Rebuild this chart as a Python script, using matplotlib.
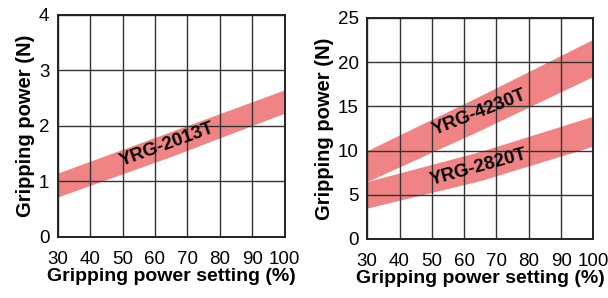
import matplotlib.pyplot as plt
import numpy as np

plt.rcParams['font.family'] = ['Liberation Sans', 'DejaVu Sans']

# gripping power setting (%)
setting = [30, 65, 100]

# YRG-2013T band (N)
y2013_low = [0.72, 1.45, 2.23]
y2013_high = [1.15, 1.90, 2.65]

# YRG-4230T band (N)
y4230_low = [6.5, 12.3, 18.4]
y4230_high = [10.0, 16.2, 22.6]

# YRG-2820T band (N)
y2820_low = [3.5, 6.6, 10.5]
y2820_high = [6.5, 9.9, 13.9]

xticks = [30, 40, 50, 60, 70, 80, 90, 100]
band_color = '#f08484'

fig = plt.figure(figsize=(6.08, 2.98), dpi=100)
ax1 = fig.add_axes([0.095, 0.205, 0.373, 0.745])
ax2 = fig.add_axes([0.604, 0.198, 0.372, 0.742])


def style(ax, yticks):
    ax.set_xlim(30, 100)
    ax.set_ylim(yticks[0], yticks[-1])
    ax.set_xticks(xticks)
    ax.set_yticks(yticks)
    ax.grid(True, color='#333333', linewidth=1.0, zorder=2)
    ax.set_axisbelow(False)
    ax.tick_params(length=0, labelsize=13.5)
    ax.tick_params(axis='x', pad=10)
    ax.tick_params(axis='y', pad=6)
    for s in ax.spines.values():
        s.set_linewidth(1.4)
        s.set_color('#222222')
        s.set_zorder(3)
    ax.set_xlabel('Gripping power setting (%)', fontsize=14, fontweight='bold', labelpad=0)
    ax.set_ylabel('Gripping power (N)', fontsize=14.5, fontweight='bold', labelpad=3)


ax1.fill_between(setting, y2013_low, y2013_high, color=band_color, lw=0, zorder=1)
style(ax1, [0, 1, 2, 3, 4])
ax1.text(63.8, 1.66, 'YRG-2013T', rotation=20, fontsize=13.5, fontweight='bold',
         ha='center', va='center', rotation_mode='anchor', zorder=4)

ax2.fill_between(setting, y4230_low, y4230_high, color=band_color, lw=0, zorder=1)
ax2.fill_between(setting, y2820_low, y2820_high, color=band_color, lw=0, zorder=1)
style(ax2, [0, 5, 10, 15, 20, 25])
ax2.text(64.7, 14.25, 'YRG-4230T', rotation=21.5, fontsize=13.5, fontweight='bold',
         ha='center', va='center', rotation_mode='anchor', zorder=4)
ax2.text(64.4, 8.1, 'YRG-2820T', rotation=15.5, fontsize=13.5, fontweight='bold',
         ha='center', va='center', rotation_mode='anchor', zorder=4)

fig.savefig('out.png', dpi=100)
